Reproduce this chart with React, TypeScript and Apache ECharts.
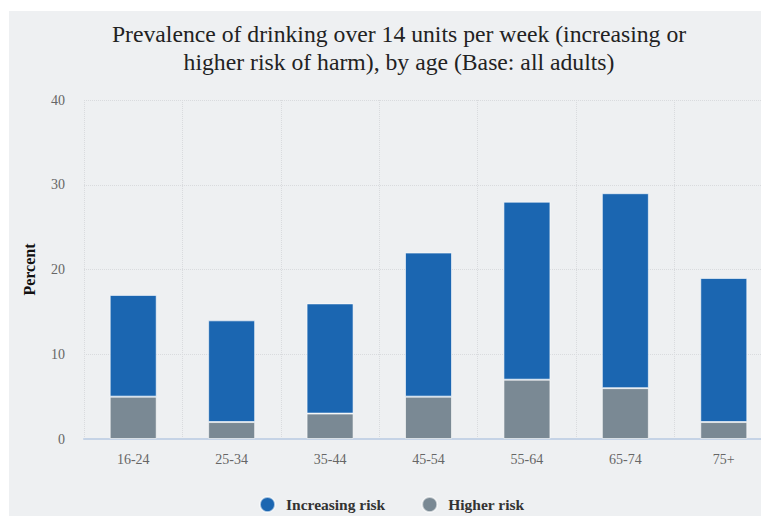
import React, { useEffect, useRef } from "react";
import * as echarts from "echarts";

const ageGroups = ["16-24", "25-34", "35-44", "45-54", "55-64", "65-74", "75+"];
const increasingRisk = [12, 12, 13, 17, 21, 23, 17];
const higherRisk = [5, 2, 3, 5, 7, 6, 2];
const yTicks = { min: 0, max: 40, interval: 10 };

const SERIF = "'Liberation Serif', 'DejaVu Serif', serif";
const BLUE = "#1b66b1";
const GREY = "#7a8994";

export default function App() {
  const ref = useRef<HTMLDivElement>(null);

  useEffect(() => {
    if (!ref.current) return;
    const chart = echarts.init(ref.current, undefined, { renderer: "svg" });
    chart.setOption({
      animation: false,
      backgroundColor: "#ffffff",
      textStyle: { fontFamily: SERIF },
      graphic: [
        {
          type: "rect",
          z: -10,
          silent: true,
          shape: { x: 9, y: 11, width: 760, height: 510 },
          style: { fill: "#eef0f2" },
        },
      ],
      title: {
        text: "Prevalence of drinking over 14 units per week (increasing or\nhigher risk of harm), by age (Base: all adults)",
        left: 394,
        textAlign: "center",
        top: 15,
        textStyle: {
          fontFamily: SERIF,
          fontSize: 23.7,
          fontWeight: "normal",
          color: "#222",
          lineHeight: 28,
        },
      },
      legend: {
        data: ["Increasing risk", "Higher risk"],
        left: 254,
        top: 491,
        icon: "circle",
        itemWidth: 15,
        itemHeight: 15,
        itemGap: 36,
        textStyle: {
          fontFamily: SERIF,
          fontSize: 15.5,
          fontWeight: "bold",
          color: "#333",
          padding: [0, 0, 0, 6],
        },
      },
      grid: {
        left: 84,
        top: 100,
        width: 689,
        height: 339,
        containLabel: false,
        outerBoundsMode: "none",
      },
      xAxis: {
        type: "category",
        data: ageGroups,
        axisLine: { lineStyle: { color: "#c5d3e6", width: 2 } },
        axisTick: { show: false },
        axisLabel: { color: "#666", fontSize: 14, fontFamily: SERIF, margin: 13 },
        splitLine: { show: true, lineStyle: { color: "#d9dbde", type: "dotted" } },
      },
      yAxis: {
        type: "value",
        min: yTicks.min,
        max: yTicks.max,
        interval: yTicks.interval,
        name: "Percent",
        nameLocation: "middle",
        nameRotate: 90,
        nameGap: 47,
        nameTextStyle: { fontFamily: SERIF, fontSize: 16, fontWeight: "bold", color: "#111" },
        axisLine: { show: false },
        axisTick: { show: false },
        axisLabel: { color: "#666", fontSize: 14, fontFamily: SERIF, margin: 19 },
        splitLine: { lineStyle: { color: "#d9dbde", type: "dotted" } },
      },
      series: [
        {
          name: "Higher risk",
          type: "bar",
          stack: "total",
          barWidth: 47,
          data: higherRisk,
          itemStyle: { color: GREY, borderColor: "rgba(255,255,255,0.6)", borderWidth: 1 },
        },
        {
          name: "Increasing risk",
          type: "bar",
          stack: "total",
          barWidth: 47,
          data: increasingRisk,
          itemStyle: { color: BLUE, borderColor: "rgba(255,255,255,0.6)", borderWidth: 1 },
        },
      ],
    });
    return () => chart.dispose();
  }, []);

  return (
    <div
      ref={ref}
      style={{ position: "fixed", left: 0, top: 0, width: 761, height: 516 }}
    />
  );
}
